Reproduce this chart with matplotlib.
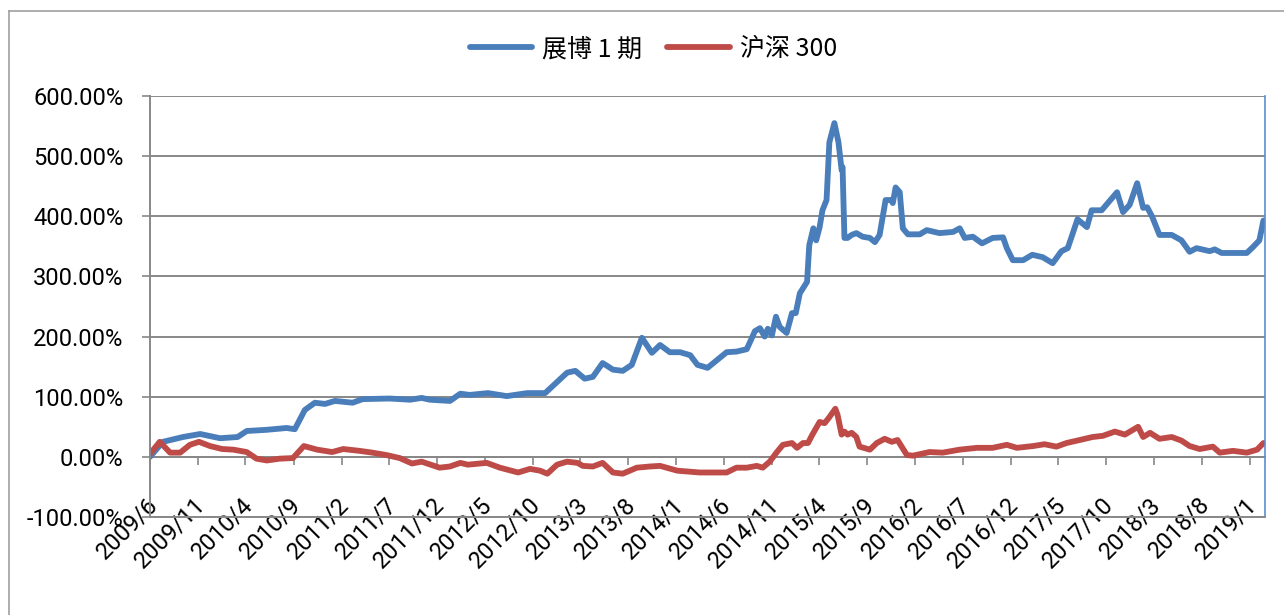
import numpy as np
import pandas as pd
import matplotlib
matplotlib.use('Agg')
import matplotlib.pyplot as plt
import matplotlib.transforms as mtransforms
from matplotlib.lines import Line2D
from matplotlib.ticker import FuncFormatter

# 展博1期 累计收益, %
zb_dates = ['2009-06-01', '2009-07-12', '2009-09-14', '2009-11-08', '2010-01-10', '2010-03-07',
            '2010-04-05', '2010-06-08', '2010-08-10', '2010-09-05', '2010-10-07', '2010-11-08',
            '2010-12-10', '2011-01-11', '2011-03-08', '2011-04-09', '2011-07-04', '2011-09-07',
            '2011-10-14', '2011-11-09', '2012-01-12', '2012-02-14', '2012-03-15', '2012-05-12',
            '2012-07-11', '2012-09-14', '2012-11-10', '2013-01-19', '2013-02-14', '2013-03-16',
            '2013-04-11', '2013-05-12', '2013-06-14', '2013-07-15', '2013-08-13', '2013-09-14',
            '2013-10-16', '2013-11-11', '2013-12-12', '2014-01-14', '2014-02-15', '2014-03-10',
            '2014-04-11', '2014-06-11', '2014-07-12', '2014-08-14', '2014-09-09', '2014-09-25',
            '2014-10-10', '2014-10-20', '2014-11-02', '2014-11-15', '2014-11-27', '2014-12-19',
            '2015-01-05', '2015-01-17', '2015-01-30', '2015-02-22', '2015-03-01', '2015-03-14',
            '2015-03-23', '2015-04-03', '2015-04-12', '2015-04-25', '2015-05-04', '2015-05-20',
            '2015-06-02', '2015-06-12', '2015-06-15', '2015-06-21', '2015-07-01', '2015-07-14',
            '2015-07-29', '2015-08-18', '2015-09-10', '2015-09-26', '2015-10-11', '2015-10-30',
            '2015-11-16', '2015-11-22', '2015-12-01', '2015-12-14', '2015-12-24', '2016-01-09',
            '2016-02-16', '2016-03-09', '2016-04-19', '2016-06-01', '2016-06-22', '2016-07-08',
            '2016-08-03', '2016-09-01', '2016-10-05', '2016-11-07', '2016-11-19', '2016-12-08',
            '2017-01-10', '2017-02-08', '2017-03-13', '2017-04-14', '2017-05-12', '2017-06-01',
            '2017-07-02', '2017-08-01', '2017-08-16', '2017-09-17', '2017-11-05', '2017-11-24',
            '2017-12-15', '2018-01-08', '2018-01-27', '2018-02-09', '2018-02-25', '2018-03-20',
            '2018-04-28', '2018-05-29', '2018-06-24', '2018-07-16', '2018-08-27', '2018-09-12',
            '2018-10-04', '2018-12-23', '2019-01-12', '2019-02-01', '2019-02-14']
zb_ret = [0, 25, 33, 38, 31, 33,
          43, 45, 48, 46, 78, 90,
          88, 93, 90, 96, 97, 95,
          98, 95, 93, 105, 103, 106,
          101, 106, 106, 140, 143, 130,
          133, 156, 145, 143, 153, 198,
          173, 186, 174, 174, 169, 153,
          148, 174, 175, 179, 209, 214,
          200, 213, 202, 233, 216, 206,
          239, 239, 272, 291, 352, 380,
          360, 382, 410, 427, 523, 555,
          523, 477, 482, 364, 364, 369,
          372, 366, 364, 357, 369, 427,
          427, 422, 448, 440, 380, 370,
          370, 377, 372, 374, 380, 364,
          366, 355, 364, 365, 347, 327,
          327, 336, 332, 322, 342, 347,
          395, 382, 410, 410, 440, 407,
          419, 455, 414, 415, 399, 369,
          369, 360, 341, 347, 342, 345,
          339, 339, 349, 360, 393]

# 沪深300 累计收益, %
hs_dates = ['2009-06-01', '2009-07-02', '2009-08-04', '2009-09-05', '2009-10-06', '2009-11-04',
            '2009-12-09', '2010-01-17', '2010-02-21', '2010-04-05', '2010-05-06', '2010-06-08',
            '2010-07-19', '2010-08-30', '2010-10-04', '2010-11-15', '2011-01-02', '2011-02-06',
            '2011-03-30', '2011-05-10', '2011-06-24', '2011-08-05', '2011-09-13', '2011-10-14',
            '2011-12-10', '2012-01-12', '2012-02-14', '2012-03-09', '2012-05-08', '2012-06-19',
            '2012-08-16', '2012-09-23', '2012-10-25', '2012-11-17', '2012-12-18', '2013-01-19',
            '2013-02-21', '2013-03-10', '2013-04-11', '2013-05-12', '2013-06-14', '2013-07-15',
            '2013-08-29', '2013-10-10', '2013-11-11', '2014-01-05', '2014-03-17', '2014-06-11',
            '2014-07-12', '2014-08-14', '2014-09-15', '2014-10-04', '2014-10-26', '2014-11-18',
            '2014-12-07', '2015-01-05', '2015-01-21', '2015-02-09', '2015-02-25', '2015-03-11',
            '2015-04-03', '2015-04-19', '2015-05-04', '2015-05-23', '2015-05-30', '2015-06-12',
            '2015-06-21', '2015-07-01', '2015-07-14', '2015-07-29', '2015-08-08', '2015-09-10',
            '2015-10-02', '2015-10-27', '2015-11-19', '2015-12-07', '2016-01-06', '2016-01-25',
            '2016-03-18', '2016-04-29', '2016-06-22', '2016-08-16', '2016-10-05', '2016-11-19',
            '2016-12-21', '2017-02-11', '2017-03-19', '2017-04-26', '2017-05-28', '2017-07-09',
            '2017-08-19', '2017-09-21', '2017-10-29', '2017-11-30', '2018-01-11', '2018-01-27',
            '2018-02-18', '2018-03-20', '2018-04-28', '2018-05-29', '2018-06-24', '2018-07-26',
            '2018-09-06', '2018-09-28', '2018-11-09', '2018-12-23', '2019-01-25', '2019-02-14']
hs_ret = [5, 25, 7, 7, 20, 25,
          18, 13, 12, 8, -3, -6,
          -3, -2, 18, 12, 8, 13,
          10, 7, 3, -2, -11, -8,
          -18, -16, -10, -13, -10, -18,
          -26, -20, -23, -28, -13, -8,
          -10, -15, -16, -10, -26, -28,
          -18, -16, -15, -23, -26, -26,
          -18, -18, -15, -18, -8, 8,
          20, 23, 15, 23, 23, 37,
          58, 56, 66, 80, 70, 37,
          42, 37, 40, 33, 17, 12,
          23, 30, 25, 28, 3, 2,
          8, 7, 12, 15, 15, 20,
          15, 18, 21, 17, 23, 28,
          33, 35, 42, 37, 50, 33,
          40, 30, 33, 27, 18, 13,
          17, 7, 10, 7, 12, 23]

tick_labels = ['2009/6', '2009/11', '2010/4', '2010/9', '2011/2', '2011/7', '2011/12', '2012/5',
               '2012/10', '2013/3', '2013/8', '2014/1', '2014/6', '2014/11', '2015/4', '2015/9',
               '2016/2', '2016/7', '2016/12', '2017/5', '2017/10', '2018/3', '2018/8', '2019/1']
series_names = ['展博 1 期', '沪深 300']

BLUE, RED, GRID = '#4A7EBB', '#BE4B48', '#888888'
num_font = ['Roboto', 'Noto Sans CJK SC']

fig = plt.figure(figsize=(12.84, 6.15), dpi=100)
ax = fig.add_axes([150 / 1284, 1 - 517 / 615, (1265 - 150) / 1284, (517 - 96) / 615])

ax.plot(pd.to_datetime(zb_dates), zb_ret, color=BLUE, lw=4.2, label=series_names[0],
        solid_joinstyle='round', solid_capstyle='round')
ax.plot(pd.to_datetime(hs_dates), hs_ret, color=RED, lw=4.2, label=series_names[1],
        solid_joinstyle='round', solid_capstyle='round')

ax.set_ylim(-100, 600)
ax.set_yticks(np.arange(-100, 601, 100))
ax.yaxis.set_major_formatter(FuncFormatter(lambda v, p: '%.2f%%' % v))
ax.grid(axis='y', color=GRID, lw=1.4)
ax.set_axisbelow(True)

tick_dates = pd.to_datetime(tick_labels, format='%Y/%m')
ax.set_xlim(pd.Timestamp('2009-06-01'), pd.Timestamp('2019-02-19'))
ax.set_xticks(tick_dates)
ax.set_xticklabels(tick_labels, rotation=45, ha='right', va='center', rotation_mode='anchor')
ax.tick_params(axis='x', length=0, pad=-11.5)
ax.tick_params(axis='y', length=6, width=1.2, color=GRID, pad=13)
for lab in ax.get_xticklabels() + ax.get_yticklabels():
    lab.set_fontfamily(num_font)
    lab.set_fontsize(17)
shift = mtransforms.ScaledTranslation(4 / 100, 0, fig.dpi_scale_trans)
for lab in ax.get_xticklabels():
    lab.set_transform(lab.get_transform() + shift)

# x轴在0处相交, 刻度线画在0线上
sec = ax.secondary_xaxis(1 / 7)
sec.set_xticks(tick_dates)
sec.set_xticklabels([''] * len(tick_dates))
sec.tick_params(axis='x', length=6, width=1.2, color=GRID, direction='out')
sec.spines['bottom'].set_color(GRID)
sec.spines['bottom'].set_linewidth(1.4)

for s in ['left', 'bottom']:
    ax.spines[s].set_color(GRID)
    ax.spines[s].set_linewidth(1.4)
ax.spines['top'].set_visible(False)
ax.spines['right'].set_color('#5B8BD0')
ax.spines['right'].set_linewidth(1.2)

fig.legend(loc='center', bbox_to_anchor=(0.509, 0.920), ncol=2, frameon=False,
           prop={'family': ['Noto Sans CJK SC'], 'size': 18},
           handlelength=2.5, handletextpad=0.4, columnspacing=1.0)

# 外框
fig.add_artist(Line2D([9 / 1284, 9 / 1284], [0, 1 - 11 / 615], color='#A0A0A0', lw=1.2))
fig.add_artist(Line2D([9 / 1284, 1], [1 - 11 / 615, 1 - 11 / 615], color='#A0A0A0', lw=1.2))

fig.savefig('out.png', dpi=100)
